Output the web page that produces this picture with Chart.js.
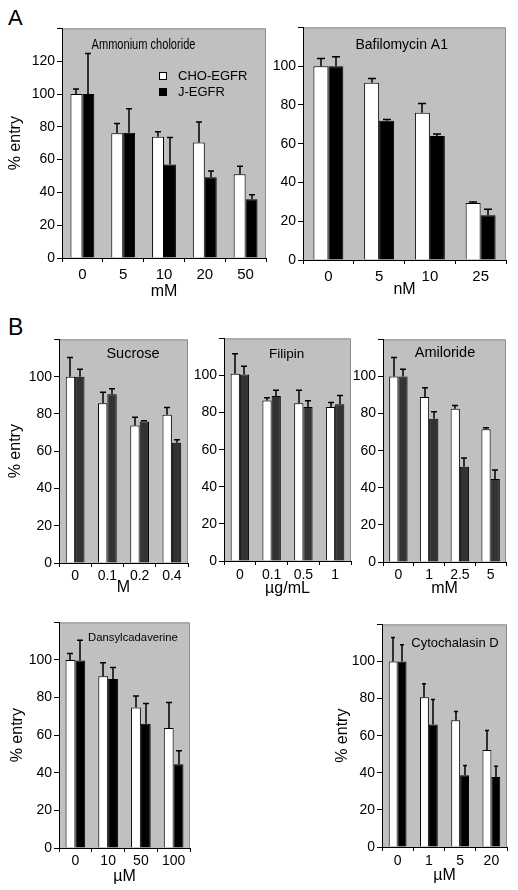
<!DOCTYPE html>
<html>
<head>
<meta charset="UTF-8">
<title>% entry</title>
<script src="https://cdn.jsdelivr.net/npm/chart.js"></script>
<style>
  body { margin:0; background:#fff; width:518px; height:890px; position:relative; overflow:hidden; font-family:"Liberation Sans", Arial, sans-serif; }
  canvas { position:absolute; }
  .letter { position:absolute; font-size:22px; line-height:22px; color:#000; }
</style>
</head>
<body>
<div class="letter" style="left:8px;top:7px">A</div>
<div class="letter" style="left:8px;top:316px;font-size:23px;line-height:23px">B</div>
<canvas id="ammonium"></canvas>
<canvas id="bafilo"></canvas>
<canvas id="sucrose"></canvas>
<canvas id="filipin"></canvas>
<canvas id="amiloride"></canvas>
<canvas id="dansyl"></canvas>
<canvas id="cyto"></canvas>
<script>
// --- data (% entry, error = upper SD) ---
const ammCats = ['0', '5', '10', '20', '50'];
const ammCho = [100, 76, 74, 70.5, 51];
const ammChoErr = [3, 6, 3, 12.5, 5];
const ammJ = [100, 76.3, 57, 49.3, 35.8];
const ammJErr = [24.7, 14.7, 16.4, 3.7, 2.8];

const bafCats = ['0', '5', '10', '25'];
const bafCho = [100, 91.5, 76, 29.4];
const bafChoErr = [4, 2.2, 4.7, 0.5];
const bafJ = [100, 71.8, 64, 23.1];
const bafJErr = [4.8, 0.7, 1, 3.1];

const sucCats = ['0', '0.1', '0.2', '0.4'];
const sucCho = [100, 85.8, 73.8, 79.5];
const sucChoErr = [10.3, 5.9, 4.4, 4];
const sucJ = [100, 90.6, 76, 64.6];
const sucJErr = [4, 2.9, 0.3, 1.6];

const filCats = ['0', '0.1', '0.5', '1'];
const filCho = [101, 86.5, 85, 83];
const filChoErr = [10.7, 1.5, 7, 2.4];
const filJ = [100.5, 89, 83, 84.5];
const filJErr = [4.5, 3, 3.4, 4.7];

const amiCats = ['0', '1', '2.5', '5'];
const amiCho = [100, 89, 82.6, 71.5];
const amiChoErr = [10.3, 5, 1.7, 0.9];
const amiJ = [100, 77.2, 51.4, 44.7];
const amiJErr = [3.9, 3.8, 4.6, 4.9];

const danCats = ['0', '10', '50', '100'];
const danCho = [100, 91.4, 74.7, 63.8];
const danChoErr = [3.5, 7.2, 6.2, 13.6];
const danJ = [99.8, 89.9, 66.1, 44.6];
const danJErr = [10.7, 6.1, 10.8, 7.1];

const cytCats = ['0', '1', '5', '20'];
const cytCho = [100, 80.7, 68.3, 52.3];
const cytChoErr = [13, 7.3, 4.7, 10.5];
const cytJ = [100, 66, 38.7, 37.8];
const cytJErr = [9, 13.5, 5.3, 5.7];

const FONT = '"Liberation Sans", Arial, sans-serif';
Chart.defaults.font.family = FONT;
Chart.defaults.color = '#000';

// grey plot box
const plotBg = {
  id: 'plotBg',
  beforeDraw(chart) {
    const { ctx, chartArea: a } = chart;
    ctx.save();
    ctx.fillStyle = '#c0c0c0';
    ctx.fillRect(a.left, a.top, a.right - a.left, a.bottom - a.top);
    ctx.strokeStyle = '#8c8c8c';
    ctx.lineWidth = 1;
    ctx.beginPath();
    ctx.moveTo(a.left, a.top + 0.5);
    ctx.lineTo(a.right - 0.5, a.top + 0.5);
    ctx.lineTo(a.right - 0.5, a.bottom);
    ctx.stroke();
    ctx.restore();
  }
};

// upward error bars with cap
const errorBars = {
  id: 'errorBars',
  afterDatasetsDraw(chart) {
    const { ctx } = chart;
    const y = chart.scales.y;
    ctx.save();
    ctx.strokeStyle = '#000';
    ctx.lineWidth = 1.5;
    chart.data.datasets.forEach((ds, i) => {
      chart.getDatasetMeta(i).data.forEach((bar, j) => {
        const top = y.getPixelForValue(ds.data[j] + ds.errors[j]);
        const x = Math.round(bar.x);
        const half = Math.max(2, Math.round(bar.width * 0.28));
        ctx.beginPath();
        ctx.moveTo(x, bar.y);
        ctx.lineTo(x, top);
        ctx.moveTo(x - half, top);
        ctx.lineTo(x + half, top);
        ctx.stroke();
      });
    });
    ctx.restore();
  }
};

// drug name inside the box, plus legend for the first panel
const panelText = {
  id: 'panelText',
  afterDraw(chart, args, opts) {
    const { ctx, chartArea: a } = chart;
    ctx.save();
    ctx.fillStyle = '#000';
    ctx.textBaseline = 'middle';
    ctx.textAlign = 'center';
    ctx.font = opts.size + 'px ' + FONT;
    ctx.save();
    ctx.translate(a.left + opts.dx, a.top + opts.dy);
    ctx.scale(opts.sx || 1, 1);
    ctx.fillText(opts.text, 0, 0);
    ctx.restore();
    if (opts.legend) {
      ctx.textAlign = 'left';
      ctx.font = '13px ' + FONT;
      ctx.lineWidth = 1;
      chart.data.datasets.forEach((ds, i) => {
        const bx = Math.round(a.left + opts.lgx), by = Math.round(a.top + opts.lgy + i * 16);
        ctx.fillStyle = ds.backgroundColor;
        ctx.fillRect(bx, by, 8, 8);
        ctx.strokeStyle = '#000';
        ctx.strokeRect(bx + 0.5, by + 0.5, 7, 7);
        ctx.fillStyle = '#000';
        ctx.fillText(ds.label, bx + 19, by + 4.5);
      });
    }
    ctx.restore();
  }
};

function panel(id, p) {
  const W = 56, H = 45, PT = 8, PR = 6;
  const cv = document.getElementById(id);
  const w = W + (p.r - p.l) + PR, h = PT + (p.b - p.t) + H;
  cv.width = w; cv.height = h;
  cv.style.width = w + 'px'; cv.style.height = h + 'px';
  cv.style.left = (p.l - W) + 'px'; cv.style.top = (p.t - PT) + 'px';

  new Chart(cv, {
    type: 'bar',
    data: {
      labels: p.cats,
      datasets: [
        { label: 'CHO-EGFR', data: p.cho, errors: p.choErr, backgroundColor: '#fff', borderColor: '#000', borderWidth: 1 },
        { label: 'J-EGFR', data: p.j, errors: p.jErr, backgroundColor: p.dark, borderColor: '#000', borderWidth: 1 }
      ]
    },
    options: {
      responsive: false,
      animation: false,
      layout: { padding: { top: PT, right: PR, left: 0, bottom: 0 } },
      datasets: { bar: { categoryPercentage: p.grp, barPercentage: 1 } },
      plugins: {
        legend: { display: false },
        tooltip: { enabled: false },
        panelText: { text: p.title, dx: p.tdx, dy: p.tdy, size: p.tsize, sx: p.tsx, legend: !!p.legend, lgx: 96.7, lgy: 44 }
      },
      scales: {
        x: {
          grid: { offset: true, drawOnChartArea: false, tickLength: 4, color: '#000' },
          border: { color: '#000', width: 1 },
          ticks: { font: { size: p.xSize }, padding: p.xPad, color: '#000', maxRotation: 0 },
          title: { display: true, text: p.unit, font: { size: 16 }, padding: { top: 0, bottom: H - 9.6 - p.xTitle } },
          afterFit(s) { s.height = H; }
        },
        y: {
          min: 0, max: p.yMax,
          grid: { drawOnChartArea: false, tickLength: 5, color: '#000' },
          border: { color: '#000', width: 1 },
          ticks: { stepSize: 20, font: { size: 14 }, padding: 2, color: '#000', callback: v => v === p.yMax ? '' : v },
          title: { display: p.yDist > 0, text: '% entry', font: { size: 16 }, padding: { top: Math.max(0, W - 9.6 - p.yDist), bottom: 0 } },
          afterFit(s) { s.width = W; }
        }
      }
    },
    plugins: [plotBg, errorBars, panelText]
  });
}

panel('ammonium', { cats: ammCats, cho: ammCho, choErr: ammChoErr, j: ammJ, jErr: ammJErr, dark: '#000',
  l: 62, t: 26, r: 266, b: 258, yMax: 140, grp: 0.585, yDist: 47, xSize: 15, xPad: 4, xTitle: 34, unit: 'mM',
  title: 'Ammonium choloride', tdx: 81.5, tdy: 17, tsize: 14, tsx: 0.79, legend: true });
panel('bafilo', { cats: bafCats, cho: bafCho, choErr: bafChoErr, j: bafJ, jErr: bafJErr, dark: '#000',
  l: 303, t: 25, r: 506, b: 260, yMax: 120, grp: 0.59, yDist: 0, xSize: 15, xPad: 4, xTitle: 30, unit: 'nM',
  title: 'Bafilomycin A1', tdx: 98.7, tdy: 18, tsize: 14 });
panel('sucrose', { cats: sucCats, cho: sucCho, choErr: sucChoErr, j: sucJ, jErr: sucJErr, dark: '#333',
  l: 59, t: 337, r: 188, b: 563, yMax: 120, grp: 0.58, yDist: 43, xSize: 14, xPad: 1, xTitle: 25, unit: 'M',
  title: 'Sucrose', tdx: 74, tdy: 15, tsize: 14.5 });
panel('filipin', { cats: filCats, cho: filCho, choErr: filChoErr, j: filJ, jErr: filJErr, dark: '#333',
  l: 224, t: 336, r: 351, b: 561, yMax: 120, grp: 0.58, yDist: 0, xSize: 14, xPad: 2, xTitle: 28, unit: 'µg/mL',
  title: 'Filipin', tdx: 62.7, tdy: 15.7, tsize: 13.5 });
panel('amiloride', { cats: amiCats, cho: amiCho, choErr: amiChoErr, j: amiJ, jErr: amiJErr, dark: '#333',
  l: 383, t: 337, r: 506, b: 562, yMax: 120, grp: 0.6, yDist: 0, xSize: 14, xPad: 1, xTitle: 27, unit: 'mM',
  title: 'Amiloride', tdx: 62, tdy: 14, tsize: 14.5 });
panel('dansyl', { cats: danCats, cho: danCho, choErr: danChoErr, j: danJ, jErr: danJErr, dark: '#000',
  l: 59, t: 620, r: 190, b: 848, yMax: 120, grp: 0.6, yDist: 41, xSize: 14, xPad: 1, xTitle: 28.4, unit: 'µM',
  title: 'Dansylcadaverine', tdx: 74, tdy: 15, tsize: 11.3 });
panel('cyto', { cats: cytCats, cho: cytCho, choErr: cytChoErr, j: cytJ, jErr: cytJErr, dark: '#000',
  l: 382, t: 622, r: 507, b: 847, yMax: 120, grp: 0.57, yDist: 39, xSize: 14, xPad: 2, xTitle: 29, unit: 'µM',
  title: 'Cytochalasin D', tdx: 73, tdy: 19, tsize: 13 });
</script>
</body>
</html>
